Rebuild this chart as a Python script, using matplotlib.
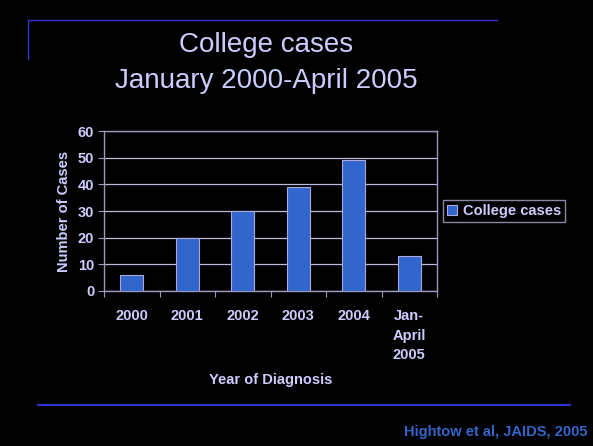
import numpy as np
import matplotlib.pyplot as plt

plt.rcParams['font.family'] = ['Liberation Sans', 'DejaVu Sans']

categories = ['2000', '2001', '2002', '2003', '2004', 'Jan-\nApril\n2005']
cases = [6, 20, 30, 39, 49, 13]
yticks = [0, 10, 20, 30, 40, 50, 60]

TEXT = '#ccccff'
BAR = '#3366cc'
LINE = '#3333cc'

fig = plt.figure(figsize=(5.93, 4.46), dpi=100, facecolor='black')
W, H = 593, 446

# plot area in pixel coords: x 104..437, y 131..291
ax = fig.add_axes([104 / W, 1 - 291 / H, (437 - 104) / W, (291 - 131) / H])
ax.set_facecolor('black')

x = np.arange(len(categories))
bars = ax.bar(x, cases, width=0.42, color=BAR, edgecolor='#aaaadd', linewidth=0.8,
              label='College cases', zorder=3)

ax.set_xlim(-0.5, len(categories) - 0.5)
ax.set_ylim(0, 60)
ax.set_yticks(yticks)
ax.yaxis.grid(True, color='#bbbbdd', linewidth=0.9, zorder=0)

# tick marks between categories, labels centred
ax.set_xticks(np.arange(len(categories) + 1) - 0.5)
ax.set_xticklabels([])
ax.set_xticks(x, minor=True)
ax.set_xticklabels(categories, minor=True, fontsize=10.5, fontweight='bold', color=TEXT,
                   linespacing=1.5, va='top')
ax.tick_params(axis='x', which='minor', length=0, pad=13)
ax.tick_params(axis='x', which='major', length=4, color='#9999bb')
ax.tick_params(axis='y', length=4, color='#9999bb', labelsize=10.5, labelcolor=TEXT, pad=3)
for lbl in ax.get_yticklabels():
    lbl.set_fontweight('bold')

for s in ax.spines.values():
    s.set_color('#9999bb')
    s.set_linewidth(1)

ax.set_ylabel('Number of Cases', fontsize=10.5, fontweight='bold', color=TEXT, labelpad=5)
fig.text(271 / W, 1 - 380 / H, 'Year of Diagnosis', ha='center', va='center',
         fontsize=10.5, fontweight='bold', color=TEXT)

leg = fig.legend(handles=[bars], labels=['College cases'], loc='center left',
                 bbox_to_anchor=(443 / W, 1 - 211 / H), frameon=True, fontsize=10.5,
                 facecolor='black', edgecolor='#aaaacc', handlelength=0.7,
                 handleheight=0.7, handletextpad=0.4, borderpad=0.25, fancybox=False,
                 borderaxespad=0)
for t in leg.get_texts():
    t.set_color(TEXT)
    t.set_fontweight('bold')

# title
fig.text(266 / W, 1 - 45 / H, 'College cases', ha='center', va='center',
         fontsize=20, color=TEXT)
fig.text(266 / W, 1 - 81 / H, 'January 2000-April 2005', ha='center', va='center',
         fontsize=20, color=TEXT)

# decorative slide lines
fig.add_artist(plt.Line2D([28 / W, 497 / W], [1 - 20 / H, 1 - 20 / H], color=LINE, linewidth=1))
fig.add_artist(plt.Line2D([28 / W, 28 / W], [1 - 20 / H, 1 - 59 / H], color=LINE, linewidth=1))
fig.add_artist(plt.Line2D([38 / W, 570 / W], [1 - 405 / H, 1 - 405 / H], color=LINE, linewidth=1.5))

fig.text(587 / W, 1 - 432 / H, 'Hightow et al, JAIDS, 2005', ha='right', va='center',
         fontsize=10.5, fontweight='bold', color=BAR)

fig.savefig('out.png', dpi=100, facecolor='black')
